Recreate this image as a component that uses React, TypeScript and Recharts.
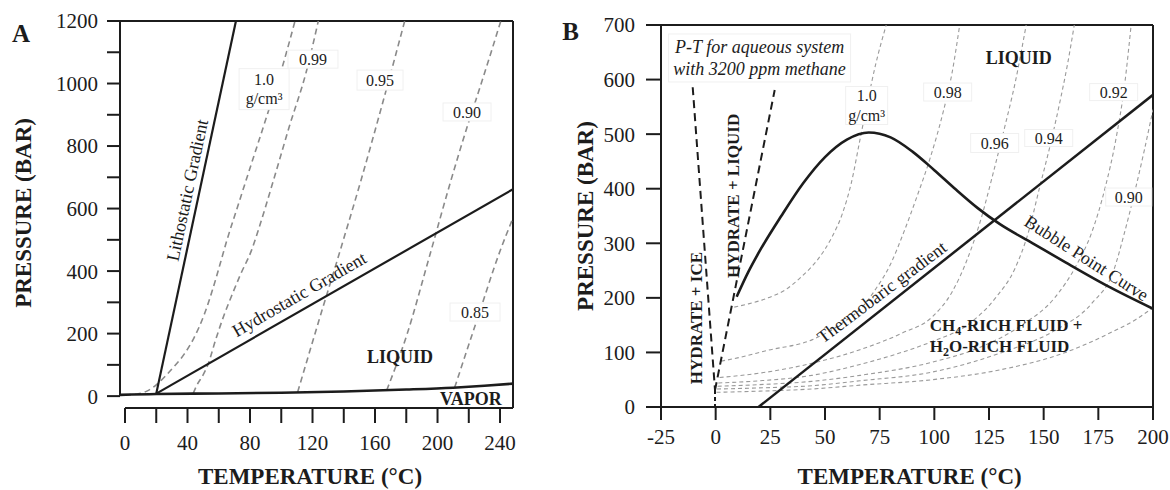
import React from 'react';
import { LineChart, Line, XAxis, YAxis, ReferenceLine, ReferenceDot } from 'recharts';

type Pt = { t: number; p: number };

const FONT = '"Liberation Serif", "Times New Roman", serif';
const INK = '#1c1c1c';

// ---- Panel A: pure water, pressure (bar) vs temperature (°C)
const aTempTicks = [0, 20, 40, 60, 80, 100, 120, 140, 160, 180, 200, 220, 240];
const aPresTicks = [0, 100, 200, 300, 400, 500, 600, 700, 800, 900, 1000, 1100, 1200];
const aLithostatic: Pt[] = [{ t: 20, p: 8 }, { t: 71, p: 1200 }];
const aHydrostatic: Pt[] = [{ t: 20, p: 8 }, { t: 248.3, p: 662 }];
const aVapor: Pt[] = [
  { t: -3.2, p: 4 }, { t: 20, p: 7 }, { t: 60, p: 8.5 }, { t: 100, p: 11 }, { t: 140, p: 15 },
  { t: 180, p: 21 }, { t: 210, p: 27 }, { t: 230, p: 33 }, { t: 248.3, p: 40 },
];
const aIso100: Pt[] = [
  { t: 0, p: 4 }, { t: 8, p: 7 }, { t: 14, p: 16 }, { t: 20, p: 36 }, { t: 26, p: 65 }, { t: 32, p: 98 },
  { t: 38, p: 135 }, { t: 44, p: 185 }, { t: 51, p: 265 }, { t: 56, p: 340 }, { t: 61, p: 425 },
  { t: 65, p: 495 }, { t: 72, p: 605 }, { t: 81, p: 745 }, { t: 90.9, p: 898 }, { t: 100.5, p: 1050 },
  { t: 108.8, p: 1200 },
];
const aIso099: Pt[] = [
  { t: 43.7, p: 9 }, { t: 46, p: 35 }, { t: 50, p: 68 }, { t: 53.3, p: 104 }, { t: 58, p: 180 },
  { t: 63, p: 254 }, { t: 68, p: 318 }, { t: 74, p: 390 }, { t: 81, p: 467 }, { t: 85.3, p: 531 },
  { t: 95, p: 690 }, { t: 105, p: 860 }, { t: 116.3, p: 1043 }, { t: 123.7, p: 1200 },
];
const aIso095: Pt[] = [
  { t: 110.5, p: 13 }, { t: 124, p: 240 }, { t: 137.6, p: 464 }, { t: 151, p: 690 }, { t: 165, p: 940 },
  { t: 179, p: 1200 },
];
const aIso090: Pt[] = [
  { t: 167.5, p: 19 }, { t: 180.5, p: 198 }, { t: 195, p: 450 }, { t: 208, p: 680 }, { t: 219.5, p: 870 },
  { t: 227, p: 985 }, { t: 240.5, p: 1200 },
];
const aIso085: Pt[] = [{ t: 211, p: 28 }, { t: 225, p: 240 }, { t: 240, p: 464 }, { t: 248.3, p: 570 }];

// ---- Panel B: aqueous system with 3200 ppm methane
const bTempTicks = [-25, 0, 25, 50, 75, 100, 125, 150, 175, 200];
const bPresTicks = [0, 100, 200, 300, 400, 500, 600, 700];
const bHydrateIce: Pt[] = [{ t: -10.5, p: 586 }, { t: -0.3, p: 31 }];
const bHydrateLiquid: Pt[] = [{ t: -0.3, p: 31 }, { t: 27, p: 581 }];
const bHydrateStem: Pt[] = [{ t: -0.3, p: 31 }, { t: -0.3, p: 0 }];
const bBubble: Pt[] = [
  { t: 9.6, p: 202 }, { t: 15, p: 248 }, { t: 20, p: 285 }, { t: 30, p: 350 }, { t: 40, p: 410 },
  { t: 50, p: 458 }, { t: 60, p: 490 }, { t: 70, p: 503 }, { t: 80, p: 494 }, { t: 90, p: 468 },
  { t: 100, p: 434 }, { t: 110, p: 398 }, { t: 120, p: 364 }, { t: 130, p: 335 }, { t: 145, p: 300 },
  { t: 160, p: 265 }, { t: 180, p: 220 }, { t: 200, p: 180 },
];
const bThermobaric: Pt[] = [{ t: 19.6, p: 0 }, { t: 200, p: 572 }];
const bIso100: Pt[] = [
  { t: 8.5, p: 183 }, { t: 15, p: 189 }, { t: 24, p: 200 }, { t: 32, p: 215 }, { t: 39, p: 238 },
  { t: 47, p: 272 }, { t: 53, p: 310 }, { t: 58, p: 355 }, { t: 62, p: 410 }, { t: 66, p: 490 },
  { t: 69, p: 550 }, { t: 73, p: 625 }, { t: 78, p: 700 },
];
const bIso098: Pt[] = [
  { t: 2.5, p: 84 }, { t: 10, p: 90 }, { t: 24, p: 104 }, { t: 44, p: 123 }, { t: 58, p: 154 },
  { t: 67, p: 183 }, { t: 73, p: 215 }, { t: 80, p: 262 }, { t: 86, p: 320 }, { t: 92, p: 385 },
  { t: 98, p: 455 }, { t: 104, p: 540 }, { t: 108, p: 610 }, { t: 111.6, p: 700 },
];
const bIso096: Pt[] = [
  { t: 1.8, p: 54 }, { t: 20, p: 62 }, { t: 44, p: 80 }, { t: 66, p: 105 }, { t: 85, p: 135 },
  { t: 99, p: 165 }, { t: 108, p: 210 }, { t: 115, p: 270 }, { t: 121, p: 340 }, { t: 127, p: 430 },
  { t: 132, p: 510 }, { t: 137, p: 595 }, { t: 142, p: 700 },
];
const bIso094: Pt[] = [
  { t: 1.2, p: 44 }, { t: 20, p: 48 }, { t: 44, p: 58 }, { t: 66, p: 78 }, { t: 85, p: 100 },
  { t: 99, p: 120 }, { t: 115, p: 150 }, { t: 128, p: 200 }, { t: 137, p: 255 }, { t: 143, p: 320 },
  { t: 148, p: 400 }, { t: 153, p: 480 }, { t: 158, p: 570 }, { t: 161, p: 630 }, { t: 164, p: 700 },
];
const bIso092: Pt[] = [
  { t: 0.9, p: 38 }, { t: 20, p: 41 }, { t: 44, p: 47 }, { t: 66, p: 58 }, { t: 99, p: 82 },
  { t: 120, p: 108 }, { t: 140, p: 150 }, { t: 155, p: 200 }, { t: 165, p: 260 }, { t: 172, p: 320 },
  { t: 178, p: 400 }, { t: 183, p: 490 }, { t: 187, p: 590 }, { t: 190, p: 700 },
];
const bIso090: Pt[] = [
  { t: 0.6, p: 33 }, { t: 20, p: 35 }, { t: 44, p: 39 }, { t: 66, p: 48 }, { t: 99, p: 64 },
  { t: 131, p: 100 }, { t: 155, p: 140 }, { t: 172, p: 190 }, { t: 182, p: 250 }, { t: 187, p: 320 },
  { t: 192, p: 400 }, { t: 196, p: 470 }, { t: 200, p: 545 },
];
const bIso088: Pt[] = [
  { t: 0.4, p: 27 }, { t: 20, p: 29 }, { t: 44, p: 33 }, { t: 66, p: 40 }, { t: 99, p: 50 },
  { t: 130, p: 68 }, { t: 160, p: 100 }, { t: 180, p: 135 }, { t: 192, p: 160 }, { t: 200, p: 182 },
];

type NoteOpts = {
  lines: React.ReactNode[];
  size?: number;
  bold?: boolean;
  italic?: boolean;
  angle?: number;
  anchor?: 'start' | 'middle' | 'end';
  box?: [number, number];
  gap?: number;
};

// text drawn at a data point through ReferenceDot's shape
const note = (o: NoteOpts) => (props: any) => {
  const { cx, cy } = props;
  const size = o.size ?? 16;
  const gap = o.gap ?? size * 1.2;
  const n = o.lines.length;
  return (
    <g transform={o.angle ? `rotate(${o.angle} ${cx} ${cy})` : undefined}>
      {o.box && (
        <rect x={cx - o.box[0] / 2} y={cy - o.box[1] / 2} width={o.box[0]} height={o.box[1]}
          fill="#fff" stroke="#f0f0f0" />
      )}
      {o.lines.map((ln, i) => (
        <text key={i} x={cx} y={cy + (i - (n - 1) / 2) * gap} dy="0.35em"
          textAnchor={o.anchor ?? 'middle'} fontFamily={FONT} fontSize={size}
          fontWeight={o.bold ? 'bold' : 'normal'} fontStyle={o.italic ? 'italic' : 'normal'} fill={INK}>
          {ln}
        </text>
      ))}
    </g>
  );
};

const Note = (x: number, y: number, o: NoteOpts, k: string) => (
  <ReferenceDot key={k} x={x} y={y} r={0} ifOverflow="visible" shape={note(o)} />
);

const curve = (data: Pt[], k: string, stroke: string, width: number, dash?: string, type: any = 'monotone') => (
  <Line key={k} data={data} dataKey="p" type={type} stroke={stroke} strokeWidth={width}
    strokeDasharray={dash} dot={false} activeDot={false} isAnimationActive={false} />
);

const tickStyle = { fill: INK, fontSize: 21, fontFamily: FONT };
const tickLine = { stroke: INK, strokeWidth: 2 };
const frame = { stroke: INK, strokeWidth: 2 };

const A_T: [number, number] = [-3.2, 248.3];
const A_P: [number, number] = [-38, 1200];

const PanelA = () => (
  <LineChart width={560} height={490} margin={{ top: 21, right: 47, bottom: 0, left: 0 }}>
    <XAxis type="number" dataKey="t" domain={A_T} allowDataOverflow ticks={aTempTicks} interval={0}
      tickFormatter={(v: number) => (v % 40 === 0 ? String(v) : '')} axisLine={false} tickLine={tickLine}
      tickSize={15} tickMargin={12} height={82} tick={tickStyle} />
    <YAxis type="number" domain={A_P} allowDataOverflow ticks={aPresTicks} interval={0}
      tickFormatter={(v: number) => (v % 200 === 0 ? String(v) : '')} axisLine={false} tickLine={tickLine}
      tickSize={13} tickMargin={9} width={120} tick={tickStyle} />
    <ReferenceLine ifOverflow="visible" segment={[{ x: A_T[0], y: 0 }, { x: A_T[0], y: 1200 }]} {...frame} />
    <ReferenceLine ifOverflow="visible" segment={[{ x: 0, y: A_P[0] }, { x: A_T[1], y: A_P[0] }]} {...frame} />
    <ReferenceLine ifOverflow="visible" y={1200} {...frame} />
    <ReferenceLine ifOverflow="visible" x={A_T[1]} {...frame} />
    {curve(aIso100, 'i100', '#8a8a8a', 1.6, '6 4')}
    {curve(aIso099, 'i099', '#8a8a8a', 1.6, '6 4')}
    {curve(aIso095, 'i095', '#8a8a8a', 1.6, '6 4')}
    {curve(aIso090, 'i090', '#8a8a8a', 1.6, '6 4')}
    {curve(aIso085, 'i085', '#8a8a8a', 1.6, '6 4')}
    {curve(aLithostatic, 'lith', INK, 2.2, undefined, 'linear')}
    {curve(aHydrostatic, 'hyd', INK, 2.2, undefined, 'linear')}
    {curve(aVapor, 'vap', INK, 2.6)}
    {Note(-66.6, 1161, { lines: ['A'], size: 25, bold: true }, 'nA')}
    {Note(-65.3, 586, { lines: ['PRESSURE (BAR)'], size: 23, bold: true, angle: -90 }, 'yA')}
    {Note(118.4, -256, { lines: ['TEMPERATURE (°C)'], size: 23, bold: true }, 'xA')}
    {Note(39.7, 659, { lines: ['Lithostatic Gradient'], size: 18, angle: -78 }, 'lithL')}
    {Note(111.4, 326, { lines: ['Hydrostatic Gradient'], size: 18, angle: -30 }, 'hydL')}
    {Note(176, 125, { lines: ['LIQUID'], size: 18, bold: true }, 'liqA')}
    {Note(221.4, -9.6, { lines: ['VAPOR'], size: 18, bold: true }, 'vapA')}
    {Note(89, 982, { lines: ['1.0', 'g/cm³'], size: 16, gap: 19, box: [50, 41] }, 'l100')}
    {Note(120.3, 1078, { lines: ['0.99'], size: 16, box: [50, 18] }, 'l099')}
    {Note(163.2, 1011, { lines: ['0.95'], size: 16, box: [46, 20] }, 'l095')}
    {Note(218.9, 909, { lines: ['0.90'], size: 16, box: [48, 18] }, 'l090')}
    {Note(224, 269, { lines: ['0.85'], size: 16, box: [50, 18] }, 'l085')}
  </LineChart>
);

const B_T: [number, number] = [-25, 200];
const B_P: [number, number] = [0, 700];
const ISO_B = '#9a9a9a';

const PanelB = () => (
  <LineChart width={610} height={490} margin={{ top: 25, right: 17, bottom: 0, left: 0 }}>
    <XAxis type="number" dataKey="t" domain={B_T} allowDataOverflow ticks={bTempTicks} interval={0}
      axisLine={frame} tickLine={tickLine} tickSize={13} tickMargin={9} height={83} tick={tickStyle} />
    <YAxis type="number" domain={B_P} allowDataOverflow ticks={bPresTicks} interval={0}
      axisLine={frame} tickLine={tickLine} tickSize={15} tickMargin={11} width={101} tick={tickStyle} />
    <ReferenceLine ifOverflow="visible" y={700} {...frame} />
    <ReferenceLine ifOverflow="visible" x={200} {...frame} />
    {curve(bIso100, 'b100', ISO_B, 1.1, '4 3')}
    {curve(bIso098, 'b098', ISO_B, 1.1, '4 3')}
    {curve(bIso096, 'b096', ISO_B, 1.1, '4 3')}
    {curve(bIso094, 'b094', ISO_B, 1.1, '4 3')}
    {curve(bIso092, 'b092', ISO_B, 1.1, '4 3')}
    {curve(bIso090, 'b090', ISO_B, 1.1, '4 3')}
    {curve(bIso088, 'b088', ISO_B, 1.1, '4 3')}
    {curve(bHydrateIce, 'hi', INK, 2, '8 5', 'linear')}
    {curve(bHydrateLiquid, 'hl', INK, 2, '8 5', 'linear')}
    {curve(bHydrateStem, 'hs', INK, 2, '4 3', 'linear')}
    {curve(bThermobaric, 'tb', INK, 2.5, undefined, 'linear')}
    {curve(bBubble, 'bub', INK, 2.6)}
    {Note(-66.3, 689, { lines: ['B'], size: 25, bold: true }, 'nB')}
    {Note(-59.9, 350, { lines: ['PRESSURE (BAR)'], size: 23, bold: true, angle: -90 }, 'yB')}
    {Note(88.7, -126.4, { lines: ['TEMPERATURE (°C)'], size: 23, bold: true }, 'xB')}
    {Note(20.1, 639.6, { lines: ['P-T for aqueous system', 'with 3200 ppm methane'], size: 18, italic: true, gap: 22, box: [182, 48] }, 'ptB')}
    {Note(138.6, 639.6, { lines: ['LIQUID'], size: 18, bold: true }, 'liqB')}
    {Note(-9.15, 163, { lines: ['HYDRATE + ICE'], size: 17, bold: true, angle: -90 }, 'hiB')}
    {Note(7.8, 386.7, { lines: ['HYDRATE + LIQUID'], size: 17, bold: true, angle: -90 }, 'hlB')}
    {Note(75.9, 210.7, { lines: ['Thermobaric gradient'], size: 18, angle: -37 }, 'tbB')}
    {Note(169.7, 273, { lines: ['Bubble Point Curve'], size: 18, angle: 32.6 }, 'bpB')}
    {Note(97.9, 131, {
      lines: [
        <>CH<tspan dy={4} fontSize={12}>4</tspan><tspan dy={-4}>-RICH FLUID +</tspan></>,
        <>H<tspan dy={4} fontSize={12}>2</tspan><tspan dy={-4}>O-RICH FLUID</tspan></>,
      ], size: 17, bold: true, anchor: 'start', gap: 21,
    }, 'chB')}
    {Note(69.05, 552.5, { lines: ['1.0', 'g/cm³'], size: 16, gap: 20, box: [42, 38] }, 'b100L')}
    {Note(106.1, 577.2, { lines: ['0.98'], size: 16, box: [48, 18] }, 'b098L')}
    {Note(127.6, 483.8, { lines: ['0.96'], size: 16, box: [48, 19] }, 'b096L')}
    {Note(152.3, 493, { lines: ['0.94'], size: 16, box: [48, 17] }, 'b094L')}
    {Note(182, 577, { lines: ['0.92'], size: 16, box: [48, 17] }, 'b092L')}
    {Note(188.9, 384.8, { lines: ['0.90'], size: 16, box: [46, 18] }, 'b090L')}
  </LineChart>
);

export default function App() {
  return (
    <div style={{ position: 'absolute', left: 0, top: 0, width: 1170, height: 490, background: '#fff' }}>
      <div style={{ position: 'absolute', left: 0, top: 0 }}>
        <PanelA />
      </div>
      <div style={{ position: 'absolute', left: 560, top: 0 }}>
        <PanelB />
      </div>
    </div>
  );
}
